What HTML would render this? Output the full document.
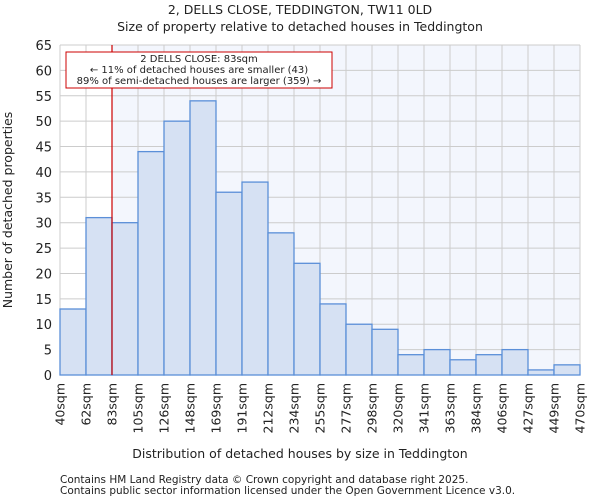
<!DOCTYPE html>
<html><head><meta charset="utf-8"><style>
body{margin:0;background:#fff;font-family:"DejaVu Sans","Liberation Sans",sans-serif;}
svg text{font-family:"DejaVu Sans","Liberation Sans",sans-serif;fill:#222;}
</style></head><body>
<svg id="chart" width="600" height="500">
<text x="300" y="14" text-anchor="middle" font-size="12.5">2, DELLS CLOSE, TEDDINGTON, TW11 0LD</text>
<text x="300" y="31" text-anchor="middle" font-size="12.5">Size of property relative to detached houses in Teddington</text>
<g id="plot"></g>
<text x="300" y="458" text-anchor="middle" font-size="12.5">Distribution of detached houses by size in Teddington</text>
<text transform="translate(12,210) rotate(-90)" text-anchor="middle" font-size="12.5">Number of detached properties</text>
<text x="60" y="483" font-size="10.5" fill="#444">Contains HM Land Registry data © Crown copyright and database right 2025.</text>
<text x="60" y="494" font-size="10.5" fill="#444">Contains public sector information licensed under the Open Government Licence v3.0.</text>
</svg>
<script>
const categories=["40sqm","62sqm","83sqm","105sqm","126sqm","148sqm","169sqm","191sqm","212sqm","234sqm","255sqm","277sqm","298sqm","320sqm","341sqm","363sqm","384sqm","406sqm","427sqm","449sqm","470sqm"];
const counts=[13,31,30,44,50,54,36,38,28,22,14,10,9,4,5,3,4,5,1,2];
const yTicks=[0,5,10,15,20,25,30,35,40,45,50,55,60,65];
const markerIndex=2;
const L=60,R=580,T=45,B=375,yMax=65;
const NS="http://www.w3.org/2000/svg";
const g=document.getElementById('plot');
const bw=(R-L)/counts.length;
const x=i=>L+i*bw;
const y=v=>B-(v/yMax)*(B-T);
function mk(t,a){const e=document.createElementNS(NS,t);for(const k in a)e.setAttribute(k,a[k]);g.appendChild(e);return e;}
let e=mk('rect',{x:L,y:T,width:R-L,height:B-T,fill:'#fff'});


e=mk('rect',{x:x(markerIndex),y:T,width:R-x(markerIndex),height:B-T,fill:'#f3f6fd'});


yTicks.forEach(v=>{
 e=mk('line',{x1:L,x2:R,y1:y(v),y2:y(v),stroke:'#ccc','stroke-width':1});
 
 
 e=mk('text',{x:L-8,y:y(v)+5,'text-anchor':'end','font-size':13});
 e.textContent=v;
 
 
});
categories.forEach((c,i)=>{
 e=mk('line',{x1:x(i),x2:x(i),y1:T,y2:B,stroke:'#ccc','stroke-width':1});
 
 
 const tx=x(i)+4.5;
 e=mk('text',{x:0,y:0,'text-anchor':'end','font-size':12.5,transform:`translate(${tx},383) rotate(-90)`});
 e.textContent=c;
 
 
});
counts.forEach((v,i)=>{
 e=mk('rect',{x:x(i),y:y(v),width:bw,height:B-y(v),fill:'#d6e1f3',stroke:'#5b8fd8','stroke-width':1.3});
 
 
});
e=mk('line',{x1:x(markerIndex),x2:x(markerIndex),y1:T,y2:B,stroke:'#cc0000','stroke-width':1.2});


e=mk('rect',{x:66,y:52,width:266,height:36,fill:'#fff',stroke:'#cc0000','stroke-width':1});


["2 DELLS CLOSE: 83sqm","← 11% of detached houses are smaller (43)","89% of semi-detached houses are larger (359) →"].forEach((t,k)=>{
 e=mk('text',{x:199,y:62+k*11,'text-anchor':'middle','font-size':10});
 e.textContent=t;
 
 
});
</script>
</body></html>
